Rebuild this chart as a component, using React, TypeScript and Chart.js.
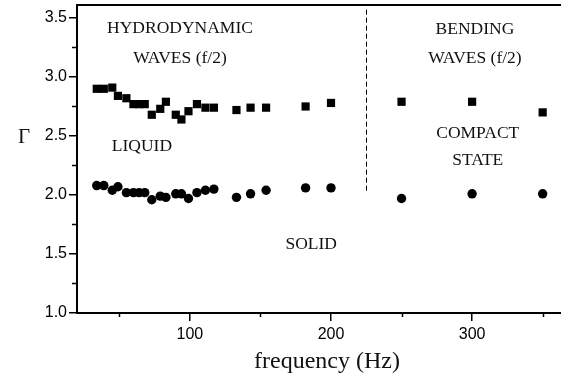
import React, { useEffect, useRef } from "react";
import { Chart, registerables } from "chart.js";

Chart.register(...registerables);

// Measured points: frequency (Hz) and Γ for both phases
const frequencies = [34, 39, 45, 49, 55, 60, 64, 68, 73, 79, 83, 90, 94, 99, 105, 111, 117, 133, 143, 154, 182, 200, 250, 300, 350];
const gammaLiquid = [2.9, 2.9, 2.91, 2.84, 2.82, 2.77, 2.77, 2.77, 2.68, 2.73, 2.79, 2.68, 2.64, 2.71, 2.77, 2.74, 2.74, 2.72, 2.74, 2.74, 2.75, 2.78, 2.79, 2.79, 2.7];
const gammaSolid = [2.08, 2.08, 2.04, 2.07, 2.02, 2.02, 2.02, 2.02, 1.96, 1.99, 1.98, 2.01, 2.01, 1.97, 2.02, 2.04, 2.05, 1.98, 2.01, 2.04, 2.06, 2.06, 1.97, 2.01, 2.01];

// Axis ranges and ticks
const xMin = 20;
const xMax = 363;
const yMin = 1.0;
const yMax = 3.61;
const xMinorTicks = [50, 150, 250, 350];
const yMinorTicks = [1.25, 1.75, 2.25, 2.75, 3.25];

// Regime boundary (dashed) and region notes, in data units
const boundaryFreq = 225;
const boundaryRange = [2.02, 3.57];
const notes: { text: string; x: number; y: number }[] = [
  { text: "HYDRODYNAMIC", x: 93, y: 3.41 },
  { text: "WAVES (f/2)", x: 93, y: 3.16 },
  { text: "BENDING", x: 302, y: 3.4 },
  { text: "WAVES (f/2)", x: 302, y: 3.16 },
  { text: "LIQUID", x: 66, y: 2.415 },
  { text: "COMPACT", x: 304, y: 2.52 },
  { text: "STATE", x: 304, y: 2.29 },
  { text: "SOLID", x: 186, y: 1.585 },
];

const SERIF = '"Liberation Serif", "Times New Roman", serif';
const SANS = '"Liberation Sans", Arial, sans-serif';

const overlayPlugin = {
  id: "overlay",
  afterDraw(chart: any) {
    const { ctx, chartArea, scales } = chart;
    const xs = scales.x;
    const ys = scales.y;
    ctx.save();
    ctx.strokeStyle = "#000";

    // top frame line
    ctx.lineWidth = 2;
    ctx.beginPath();
    ctx.moveTo(chartArea.left - 1, chartArea.top);
    ctx.lineTo(chartArea.right, chartArea.top);
    ctx.stroke();

    // minor tick marks
    ctx.lineWidth = 1.5;
    ctx.beginPath();
    for (const v of yMinorTicks) {
      const py = Math.round(ys.getPixelForValue(v)) + 0.5;
      ctx.moveTo(chartArea.left - 5, py);
      ctx.lineTo(chartArea.left, py);
    }
    for (const v of xMinorTicks) {
      const px = Math.round(xs.getPixelForValue(v)) + 0.5;
      ctx.moveTo(px, chartArea.bottom);
      ctx.lineTo(px, chartArea.bottom + 4);
    }
    ctx.stroke();

    // dashed boundary between the two regimes
    ctx.lineWidth = 1;
    ctx.setLineDash([5, 3]);
    const bx = Math.round(xs.getPixelForValue(boundaryFreq)) + 0.5;
    ctx.beginPath();
    ctx.moveTo(bx, ys.getPixelForValue(boundaryRange[1]));
    ctx.lineTo(bx, ys.getPixelForValue(boundaryRange[0]));
    ctx.stroke();
    ctx.setLineDash([]);

    // region notes
    ctx.fillStyle = "#111";
    ctx.textAlign = "center";
    ctx.textBaseline = "middle";
    ctx.font = `17.5px ${SERIF}`;
    for (const n of notes) {
      ctx.fillText(n.text, xs.getPixelForValue(n.x), ys.getPixelForValue(n.y));
    }

    // axis titles
    ctx.font = `21px ${SERIF}`;
    ctx.fillText("Γ", 24, ys.getPixelForValue(2.5) + 1);
    ctx.font = `24px ${SERIF}`;
    ctx.fillText("frequency (Hz)", 327, 362);
    ctx.restore();
  },
};

export default function App() {
  const canvasRef = useRef<HTMLCanvasElement | null>(null);

  useEffect(() => {
    if (!canvasRef.current) return;
    const chart = new Chart(canvasRef.current, {
      type: "scatter",
      data: {
        datasets: [
          {
            label: "liquid",
            data: frequencies.map((f, i) => ({ x: f, y: gammaLiquid[i] })),
            pointStyle: "rect",
            pointRadius: 5.8,
            pointBorderWidth: 0,
            backgroundColor: "#000",
            borderColor: "#000",
          },
          {
            label: "solid",
            data: frequencies.map((f, i) => ({ x: f, y: gammaSolid[i] })),
            pointStyle: "circle",
            pointRadius: 4.7,
            pointBorderWidth: 0,
            backgroundColor: "#000",
            borderColor: "#000",
          },
        ],
      },
      options: {
        responsive: false,
        animation: false,
        devicePixelRatio: 1,
        layout: { autoPadding: false, padding: { top: 5, right: 0, left: 0, bottom: 0 } },
        plugins: {
          legend: { display: false },
          tooltip: { enabled: false },
        },
        scales: {
          x: {
            type: "linear",
            position: "bottom",
            min: xMin,
            max: xMax,
            afterFit: (scale: any) => {
              scale.height = 63;
              scale.paddingLeft = 0;
              scale.paddingRight = 0;
            },
            ticks: {
              stepSize: 100,
              includeBounds: false,
              color: "#000",
              padding: 4,
              font: { family: SANS, size: 16 },
              callback: (v: any) => String(v),
            },
            grid: {
              drawOnChartArea: false,
              drawTicks: true,
              tickLength: 8,
              color: "#000",
              lineWidth: 1.5,
            },
            border: { display: true, color: "#000", width: 2 },
          },
          y: {
            type: "linear",
            position: "left",
            min: yMin,
            max: yMax,
            afterFit: (scale: any) => {
              scale.width = 77;
              scale.paddingTop = 0;
              scale.paddingBottom = 0;
            },
            ticks: {
              stepSize: 0.5,
              includeBounds: false,
              color: "#000",
              padding: 2,
              font: { family: SANS, size: 16 },
              callback: (v: any) => Number(v).toFixed(1),
            },
            grid: {
              drawOnChartArea: false,
              drawTicks: true,
              tickLength: 8,
              color: "#000",
              lineWidth: 1.5,
            },
            border: { display: true, color: "#000", width: 2 },
          },
        },
      },
      plugins: [overlayPlugin],
    });
    return () => chart.destroy();
  }, []);

  return (
    <div style={{ position: "absolute", left: 0, top: 0, width: 561, height: 376, background: "#fff" }}>
      <canvas ref={canvasRef} width={561} height={376} />
    </div>
  );
}
